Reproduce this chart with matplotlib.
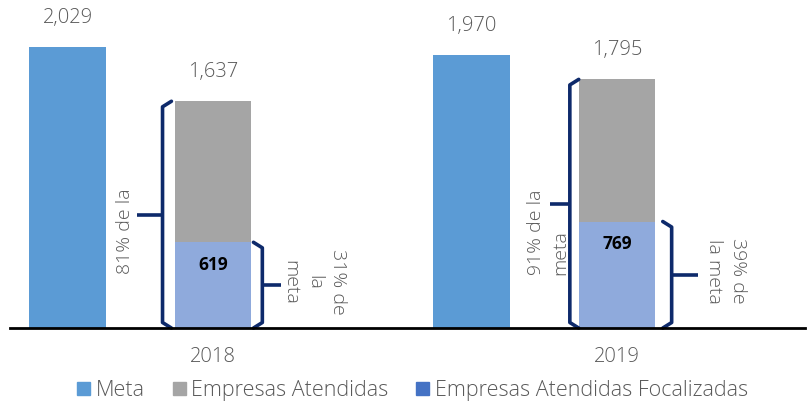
import matplotlib.pyplot as plt
from matplotlib.patches import Patch

years = ["2018", "2019"]
meta = [2029, 1970]
atendidas = [1637, 1795]
focalizadas = [619, 769]
pct_atendidas = ["81% de la", "91% de la\nmeta"]
pct_focalizadas = ["31% de\nla\nmeta", "39% de\nla meta"]

c_meta = "#5B9BD5"
c_aten = "#A5A5A5"
c_foc = "#8FAADC"
c_foc_leg = "#4472C4"
c_brace = "#0E2A6B"
c_text = "#595959"

plt.rcParams["font.family"] = ["Open Sans", "DejaVu Sans"]
plt.rcParams["font.weight"] = "light"

fig = plt.figure(figsize=(8.09, 4.05), dpi=100)
ax = fig.add_axes([10 / 809, 0.19, 795 / 809, 0.81])

w = 0.19
off_meta = -0.36
xs = list(range(len(years)))

ax.bar([x + off_meta for x in xs], meta, w, color=c_meta, zorder=2)
ax.bar(xs, atendidas, w, color=c_aten, zorder=2)
ax.bar(xs, focalizadas, w, color=c_foc, zorder=3)

for x, v in zip(xs, meta):
    ax.text(x + off_meta, v + 140, f"{v:,}", ha="center", va="bottom",
            fontsize=14.5, color=c_text)
for x, v in zip(xs, atendidas):
    ax.text(x, v + 140, f"{v:,}", ha="center", va="bottom",
            fontsize=14.5, color=c_text)
for x, v in zip(xs, focalizadas):
    ax.text(x, v - 100, f"{v:,}", ha="center", va="top",
            fontsize=12.5, fontweight="bold", color="black", zorder=4)


def brace(xv, top, side, tick, hook=0.022):
    # side = -1 opens toward the right (drawn left of a bar), +1 the opposite
    d = 40
    ax.plot([xv - side * hook, xv, xv, xv - side * hook],
            [top, top - d, d, 0], color=c_brace, lw=2.6,
            solid_joinstyle="round", solid_capstyle="round",
            clip_on=False, zorder=5)
    ax.plot([xv, xv + side * tick], [top / 2, top / 2], color=c_brace,
            lw=2.6, solid_capstyle="butt", clip_on=False, zorder=5)


half = w / 2
brace(0 - half - 0.03, atendidas[0], -1, 0.062)
brace(1 - half - 0.022, atendidas[1], -1, 0.05)
brace(0 + half + 0.027, focalizadas[0], 1, 0.045)
brace(1 + half + 0.04, focalizadas[1], 1, 0.065)

ann = dict(fontsize=14, color=c_text, linespacing=1.45, va="center",
           ha="center")
ax.text(-0.218, 700, pct_atendidas[0], rotation=90, multialignment="left",
        **ann)
ax.text(0.83, 690, pct_atendidas[1], rotation=90, multialignment="left",
        zorder=1, **ann)
ax.text(0.25, 330, pct_focalizadas[0], rotation=270,
        multialignment="center", **ann)
ax.text(1.27, 410, pct_focalizadas[1], rotation=270,
        multialignment="center", **ann)

ax.set_xlim(-0.5025, 1.465)
ax.set_ylim(0, 2368)
ax.set_xticks(xs)
ax.set_xticklabels(years, fontsize=14.5, color=c_text)
ax.tick_params(axis="x", length=0, pad=14)
ax.set_yticks([])
for s in ["top", "right", "left"]:
    ax.spines[s].set_visible(False)
ax.spines["bottom"].set_linewidth(2)
ax.spines["bottom"].set_color("black")
ax.spines["bottom"].set_zorder(6)

handles = [Patch(color=c_meta, label="Meta"),
           Patch(color=c_aten, label="Empresas Atendidas"),
           Patch(color=c_foc_leg, label="Empresas Atendidas Focalizadas")]
fig.legend(handles=handles, loc="lower center", bbox_to_anchor=(0.51, -0.038),
           ncol=3, frameon=False, fontsize=15.5, handlelength=0.6,
           handleheight=0.6, handletextpad=0.25, columnspacing=1.3,
           labelcolor=c_text)

fig.savefig("out.png", dpi=100)
